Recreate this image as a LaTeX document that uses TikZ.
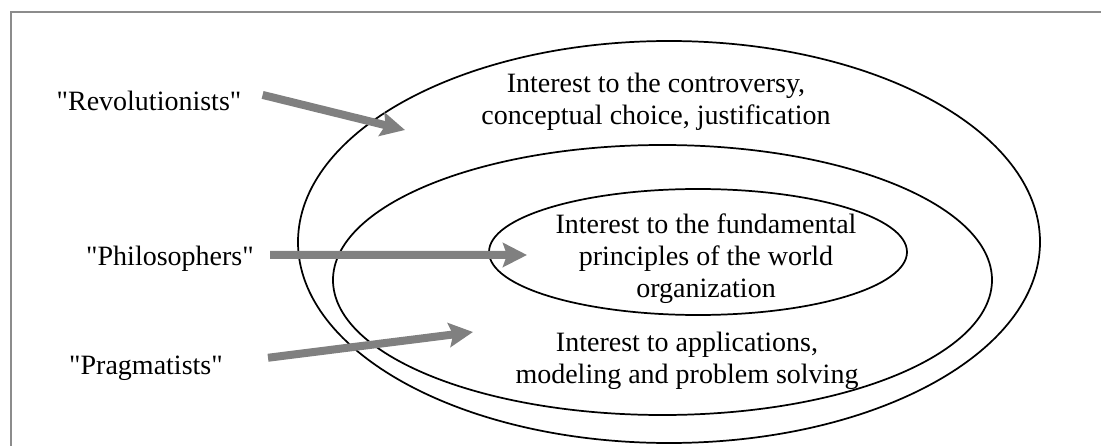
\documentclass[tikz,border=0pt]{standalone}
\usepackage{fontspec}
\setmainfont{Liberation Serif}
\usepackage{tikz}
\usetikzlibrary{arrows.meta}

\begin{document}
\begin{tikzpicture}[
                 x=0.75pt, y=-0.75pt,
                 frame/.style={draw=black!45, line width=1.5pt},
                 ring/.style={draw=black, line width=1.3pt},
                 txt/.style={font=\fontsize{21}{23.8}\selectfont, align=center, inner sep=0pt},
                 lbl/.style={font=\fontsize{21}{23.8}\selectfont, inner sep=0pt, anchor=base},
                 arr/.style={draw=gray, line width=6pt, -{Stealth[length=18pt, width=18pt, inset=3pt]}}
                 ]
\useasboundingbox (0,0) rectangle (1101,446);
% frame
\draw[frame] (11,446) -- (11,12) -- (1101,12);
% circles of interest
\draw[ring] (669,242) ellipse [x radius=371, y radius=201];
\draw[ring] (662.5,280) ellipse [x radius=329.5, y radius=135];
\draw[ring] (698,252) ellipse [x radius=209, y radius=63];
\node[txt, anchor=base] (outtxt) at (656,124) {Interest to the controversy,\\conceptual choice, justification};
\node[txt, anchor=base] (intxt) at (706,297) {Interest to the fundamental\\principles of the world\\organization};
\node[txt, anchor=base] (midtxt) at (687,383) {Interest to applications,\\modeling and problem solving};
% groups
\node[lbl] (rev) at (149,110) {\textquotedbl Revolutionists\textquotedbl};
\node[lbl] (phil) at (170,265) {\textquotedbl Philosophers\textquotedbl};
\node[lbl] (prag) at (146,374) {\textquotedbl Pragmatists\textquotedbl};
\coordinate (revtip) at (405,130);
\coordinate (philtip) at (527,255);
\coordinate (pragtip) at (473,332);
\path ([shift={(21,-5.5)}]rev.east) edge[arr] (revtip);
\path ([shift={(16,-3.5)}]phil.east) edge[arr] (philtip);
\path ([shift={(45,-10)}]prag.east) edge[arr] (pragtip);
\end{tikzpicture}
\end{document}
